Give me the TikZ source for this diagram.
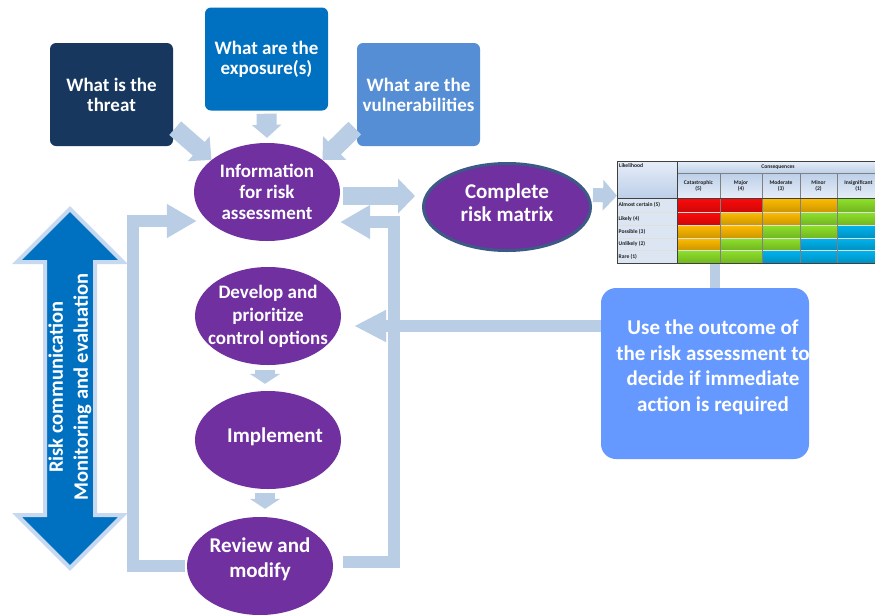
\documentclass[tikz,border=0pt]{standalone}
\usepackage{fontspec}
\setmainfont{Carlito}
\usetikzlibrary{shapes.geometric,arrows.meta,calc}
\definecolor{navy}{HTML}{17375E}
\definecolor{expblue}{HTML}{0070C0}
\definecolor{vulblue}{HTML}{558ED5}
\definecolor{plum}{HTML}{7030A0}
\definecolor{flow}{HTML}{B9CDE5}
\definecolor{usebg}{HTML}{6699FF}
\definecolor{rim}{HTML}{3C5A86}
\definecolor{glow}{HTML}{C6D9F1}
\definecolor{hdA}{HTML}{E6EDF8}
\definecolor{hdB}{HTML}{BCCFE8}
\definecolor{rowbg}{HTML}{DCE6F2}
\definecolor{cRed}{HTML}{FF0A0A}
\definecolor{cAmb}{HTML}{FFBC00}
\definecolor{cGrn}{HTML}{8EE22A}
\definecolor{cBlu}{HTML}{00B4F0}
\definecolor{ink}{HTML}{1F1F1F}

\begin{document}
\begin{tikzpicture}[x=1pt,y=-1pt,
  qbox/.style={rectangle, rounded corners=6pt, minimum width=123pt,
    minimum height=103pt, inner sep=2pt, align=center, text=white,
    font=\bfseries\fontsize{19}{20}\selectfont},
  oval/.style={ellipse, fill=plum, minimum width=146pt, minimum height=98pt, inner sep=0pt},
  ovaltext/.style 2 args={text=white, align=center,
    font=\bfseries\fontsize{#1}{#2}\selectfont},
  fat/.style n args={3}{draw=flow, line width=#1, line join=miter,
    -{Triangle[width=#2,length=#3]}},
  tbl/.style={font=\bfseries\fontsize{5.6}{6}\selectfont, text=ink, inner sep=0pt, align=center},
]
\fill[white] (0,0) rectangle (875,614);
\useasboundingbox (0,0) rectangle (875,614);

% ---- question boxes ----
\node[qbox, fill=navy]    (threat)   at (111.5,94.5) {What is the\\threat};
\node[qbox, fill=expblue] (exposure) at (266.5,59)   {What are the\\exposure(s)};
\node[qbox, fill=vulblue] (vuln)     at (418.5,94.5) {What are the\\vulnerabilities};

% ---- process ellipses ----
\node[oval] (info) at (267,192)
  [label={[ovaltext={19}{21}]center:Information\\for risk\\assessment}] {};
\node[oval, draw=rim, line width=3pt, minimum width=167pt, minimum height=87pt] (complete) at (507,207)
  [label={[ovaltext={21}{23}, yshift=4pt]center:Complete\\risk matrix}] {};
\node[oval] (develop) at (268,316)
  [label={[ovaltext={19}{23}]center:Develop and\\prioritize\\control options}] {};
\node[oval] (implement) at (268,440)
  [label={[ovaltext={21}{25}, xshift=7pt, yshift=3pt]center:Implement}] {};
\node[oval] (review) at (260,566)
  [label={[ovaltext={21}{25}, yshift=7pt]center:Review and\\modify}] {};

% ---- decision box ----
\node[rectangle, rounded corners=15pt, fill=usebg, minimum width=208pt,
      minimum height=171pt, inner sep=0pt] (usebox) at (705,373.5)
  [label={[ovaltext={21}{25.5}, xshift=8pt, yshift=6pt]center:Use the outcome of\\the risk assessment to\\decide if immediate\\action is required}] {};

% ---- risk matrix ----
\node[inner sep=0pt, minimum width=258pt, minimum height=103pt, anchor=north west] (rm) at (617,161) {};
\begin{scope}
  \clip (616,160) rectangle (875,265);
  \shade[top color=hdA, bottom color=hdB] (617,161) rectangle (677,198);
  \shade[top color=hdA, bottom color=hdB] (677,161) rectangle (880,173);
  \shade[top color=hdB, bottom color=hdA] (677,173) rectangle (880,198);
  \fill[rowbg] (617,198) rectangle (677,263);
  \foreach \ya/\yb/\ca/\cb/\cc/\cd/\ce in {
      198/212/cRed/cRed/cAmb/cAmb/cGrn,
      212/225/cRed/cAmb/cAmb/cGrn/cGrn,
      225/238/cAmb/cAmb/cGrn/cGrn/cBlu,
      238/250/cAmb/cGrn/cGrn/cBlu/cBlu,
      250/263/cGrn/cGrn/cBlu/cBlu/cBlu}{
    \shade[top color=\ca, bottom color=\ca!80!black] (677,\ya) rectangle (720,\yb);
    \shade[top color=\cb, bottom color=\cb!80!black] (720,\ya) rectangle (762,\yb);
    \shade[top color=\cc, bottom color=\cc!80!black] (762,\ya) rectangle (800,\yb);
    \shade[top color=\cd, bottom color=\cd!80!black] (800,\ya) rectangle (837,\yb);
    \shade[top color=\ce, bottom color=\ce!80!black] (837,\ya) rectangle (880,\yb);
  }
  % grid
  \foreach \y in {212,225,238,250}
    \draw[white!75!gray, line width=0.5pt] (617,\y) -- (880,\y);
  \foreach \x in {720,762,800,837}
    \draw[gray, line width=0.5pt] (\x,173) -- (\x,263);
  \draw[gray, line width=0.5pt] (677,173) -- (880,173);
  \draw[black!75, line width=1pt] (617,198) -- (880,198);
  \draw[black!75, line width=1pt] (677,161) -- (677,263);
  \draw[black!75, line width=1pt] (617,161) -- (880,161) (617,161) -- (617,263) -- (880,263);
  % labels
  \node[tbl, anchor=west] (lk) at (619,166) {Likelihood};
  \node[tbl] (cq) at (778,167) {Consequences};
  \node[tbl] (h5) at (698.5,186) {Catastrophic\\(5)};
  \node[tbl] (h4) at (741,186) {Major\\(4)};
  \node[tbl] (h3) at (781,186) {Moderate\\(3)};
  \node[tbl] (h2) at (818.5,186) {Minor\\(2)};
  \node[tbl] (h1) at (858.5,186) {Insignificant\\(1)};
  \node[tbl, anchor=west] (r5) at (618.5,205)   {Almost certain (5)};
  \node[tbl, anchor=west] (r4) at (618.5,218.5) {Likely (4)};
  \node[tbl, anchor=west] (r3) at (618.5,231.5) {Possible (3)};
  \node[tbl, anchor=west] (r2) at (618.5,244)   {Unlikely (2)};
  \node[tbl, anchor=west] (r1) at (618.5,256.5) {Rare (1)};
\end{scope}

% ---- inputs into the information step ----
\draw[fat={18pt}{32pt}{17pt}] ([xshift=2pt,yshift=18pt]threat.south east) -- (info.150);
\draw[fat={18pt}{32pt}{17pt}] ([xshift=-2pt,yshift=18pt]vuln.south west) -- (info.30);
\draw[fat={20pt}{29pt}{13pt}] ([yshift=-3pt]exposure.south) -- ([yshift=5pt]info.north);

% ---- main flow ----
\draw[fat={18pt}{34pt}{17pt}] ([xshift=3pt,yshift=-4pt]info.east) -- ([xshift=-7pt,yshift=11pt]complete.west);
\draw[fat={14pt}{30pt}{14pt}] ([xshift=1pt,yshift=12pt]complete.east) -- ([yshift=17pt]rm.west);
\draw[flow, line width=10pt] ([xshift=10pt]usebox.north) -- ([xshift=10pt]usebox.north |- rm.south);
\draw[fat={12pt}{30pt}{32pt}] ([yshift=47.5pt]usebox.west) -- ([xshift=13pt,yshift=-10pt]develop.east);
\draw[fat={20pt}{30pt}{10pt}] ([xshift=-3pt,yshift=-5pt]develop.south) -- ([xshift=-3pt,yshift=7pt]implement.north);
\draw[fat={20pt}{30pt}{10pt}] ([xshift=-3pt,yshift=-4pt]implement.south) -- ([xshift=-3pt,yshift=8pt]implement.south |- review.north);

% ---- feedback loops ----
\draw[fat={12pt}{32pt}{30pt}] ([xshift=-2pt]review.west) -| ($(info.west)+(-61,29)$) -- ($(info.west)+(3,29)$);
\draw[fat={12pt}{32pt}{30pt}] ([xshift=10pt,yshift=4pt]review.east) -| ($(info.east)+(54,30)$) -- ($(info.east)+(0,30)$);

% ---- communication / monitoring double arrow ----
\filldraw[fill=expblue, draw=glow, line width=4pt, line join=miter]
  (70,209) -- (123,262) -- (95,262) -- (95,515) -- (123,515) -- (70,568)
  -- (17,515) -- (45,515) -- (45,262) -- (17,262) -- cycle;
\node[rotate=90, align=center, text=white, font=\bfseries\fontsize{20.5}{25}\selectfont]
  (rc) at (70,387) {Risk communication\\Monitoring and evaluation};
\end{tikzpicture}
\end{document}
